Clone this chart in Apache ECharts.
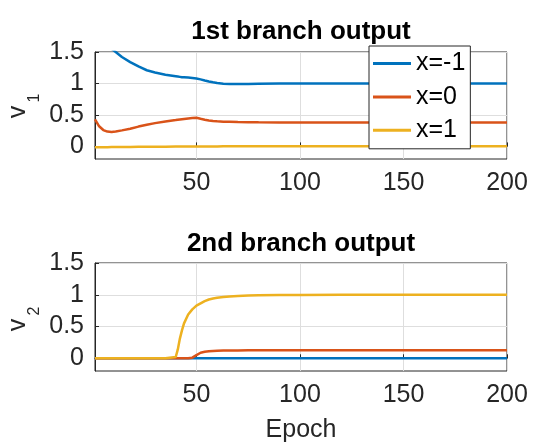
<!DOCTYPE html>
<html>
<head>
<meta charset="utf-8">
<script src="https://cdn.jsdelivr.net/npm/echarts@6/dist/echarts.min.js"></script>
<style>
  html,body{margin:0;padding:0;background:#ffffff;}
  #chart{width:560px;height:447px;}
</style>
</head>
<body>
<div id="chart"></div>
<script>
const epochs=[1,3,5,7,9,11,14,18,22,26,30,35,40,41,42,43,44,46,48,50,52,54,56,58,60,63,66,70,75,80,90,100,120,150,200];

// 1st branch output v1
const v1Neg=[1.92,1.80,1.70,1.62,1.55,1.50,1.42,1.34,1.27,1.21,1.175,1.14,1.115,1.11,1.105,1.10,1.098,1.093,1.087,1.08,1.065,1.048,1.032,1.018,1.006,0.997,0.992,0.99,0.991,0.994,0.998,1.0,1.0,1.0,1.0];
const v1Zero=[0.43,0.32,0.26,0.235,0.23,0.237,0.255,0.28,0.315,0.345,0.37,0.397,0.42,0.425,0.429,0.433,0.437,0.444,0.45,0.456,0.44,0.425,0.413,0.405,0.398,0.393,0.39,0.386,0.383,0.382,0.381,0.38,0.38,0.38,0.38];
const v1Pos=[-0.015,-0.014,-0.013,-0.012,-0.011,-0.01,-0.009,-0.008,-0.007,-0.006,-0.005,-0.004,-0.003,-0.003,-0.003,-0.002,-0.002,-0.002,-0.001,0,0,0,0,0,0,0.001,0.001,0.001,0.001,0.001,0.002,0.002,0.002,0.003,0.003];

// 2nd branch output v2
const v2Neg=[0,0,0,0,0,0,0,0,0,0,0,0,0,0,0,0,0,0,0,0,0,0,0,0,0,0,0,0,0,0,0,0,0,0,0];
const v2Zero=[0,0,0,0,0,0,0,0,0,0,0,0,0,0,0,0,0,0,0.01,0.05,0.087,0.102,0.11,0.115,0.118,0.121,0.123,0.124,0.125,0.125,0.125,0.125,0.125,0.125,0.125];
const v2Pos=[0,0,0,0,0,0,0,0,0,0,0,0,0.02,0.14,0.31,0.44,0.55,0.69,0.77,0.83,0.865,0.9,0.925,0.94,0.952,0.963,0.971,0.98,0.987,0.991,0.996,0.998,1.0,1.0,1.0];

const legendNames=['x=-1','x=0','x=1'];
const titles=['1st branch output','2nd branch output'];
const xTicks=[50,100,150,200];
const yTicks=[0,0.5,1,1.5];
const colors=['#0072BD','#D95319','#EDB120'];

const FONT='Liberation Sans, Arial, sans-serif';
const TXT='#262626';

const pairs=(ys)=>epochs.map((e,i)=>[e,ys[i]]);

const myChart=echarts.init(document.getElementById('chart'));

const xAxisOf=(gridIndex,withName)=>({
    type:'value',
    gridIndex:gridIndex,
    min:1,
    max:200,
    name:withName?'Epoch':'',
    nameLocation:'middle',
    nameGap:47,
    nameTextStyle:{fontFamily:FONT,fontSize:25,color:TXT},
    axisLine:{show:true,lineStyle:{color:TXT,width:1}},
    axisTick:{show:true,inside:true,length:4,customValues:xTicks,lineStyle:{color:TXT}},
    axisLabel:{customValues:xTicks,margin:12,fontFamily:FONT,fontSize:25,color:TXT},
    splitLine:{show:true,lineStyle:{color:'#dedede',width:1}}
});

const yAxisOf=(gridIndex)=>({
    type:'value',
    gridIndex:gridIndex,
    min:-0.2,
    max:1.5,
    axisLine:{show:true,lineStyle:{color:TXT,width:1}},
    axisTick:{show:true,inside:true,length:4,customValues:yTicks,lineStyle:{color:TXT}},
    axisLabel:{customValues:yTicks,margin:11,padding:[7,0,0,0],fontFamily:FONT,fontSize:25,color:TXT},
    splitLine:{show:true,lineStyle:{color:'#dedede',width:1}}
});

const lineSeries=(name,data,idx,color)=>({
    name:name,
    type:'line',
    xAxisIndex:idx,
    yAxisIndex:idx,
    data:data,
    showSymbol:false,
    symbol:'none',
    clip:true,
    lineStyle:{color:color,width:2.5},
    itemStyle:{color:color},
    emphasis:{disabled:true},
    animation:false
});

//y axis labels v_1 / v_2 drawn as rotated text
const yName=(sub,cy)=>[
    {type:'text',x:18,y:cy+12,rotation:Math.PI/2,
        style:{text:'v',fontFamily:FONT,fontSize:25,fill:TXT,textAlign:'center',textVerticalAlign:'middle'}},
    {type:'text',x:34.5,y:cy-2,rotation:Math.PI/2,
        style:{text:sub,fontFamily:FONT,fontSize:16,fill:TXT,textAlign:'center',textVerticalAlign:'middle'}}
];

const option={
    animation:false,
    title:[
        {text:titles[0],left:301,top:19,textAlign:'center',padding:0,
            textStyle:{fontFamily:FONT,fontSize:26,fontWeight:'bold',color:'#000'}},
        {text:titles[1],left:301,top:231,textAlign:'center',padding:0,
            textStyle:{fontFamily:FONT,fontSize:26,fontWeight:'bold',color:'#000'}}
    ],
    grid:[
        {left:95,right:53,top:52,height:107,show:true,borderColor:TXT,borderWidth:1,backgroundColor:'#fff'},
        {left:95,right:53,top:263,height:108,show:true,borderColor:TXT,borderWidth:1,backgroundColor:'#fff'}
    ],
    xAxis:[xAxisOf(0,false),xAxisOf(1,true)],
    yAxis:[yAxisOf(0),yAxisOf(1)],
    legend:{
        data:legendNames,
        orient:'vertical',
        left:369,
        top:46,
        padding:[5,5,6,4],
        itemWidth:38,
        itemHeight:3,
        itemGap:8.4,
        icon:'rect',
        backgroundColor:'#fff',
        borderColor:TXT,
        borderWidth:1,
        borderRadius:0,
        selectedMode:false,
        textStyle:{fontFamily:FONT,fontSize:25,lineHeight:25,color:'#000'}
    },
    graphic:[...yName('1',100),...yName('2',313)],
    series:[
        lineSeries(legendNames[0],pairs(v1Neg),0,colors[0]),
        lineSeries(legendNames[1],pairs(v1Zero),0,colors[1]),
        lineSeries(legendNames[2],pairs(v1Pos),0,colors[2]),
        lineSeries(legendNames[0],pairs(v2Neg),1,colors[0]),
        lineSeries(legendNames[1],pairs(v2Zero),1,colors[1]),
        lineSeries(legendNames[2],pairs(v2Pos),1,colors[2])
    ]
};

myChart.setOption(option);
</script>
</body>
</html>
